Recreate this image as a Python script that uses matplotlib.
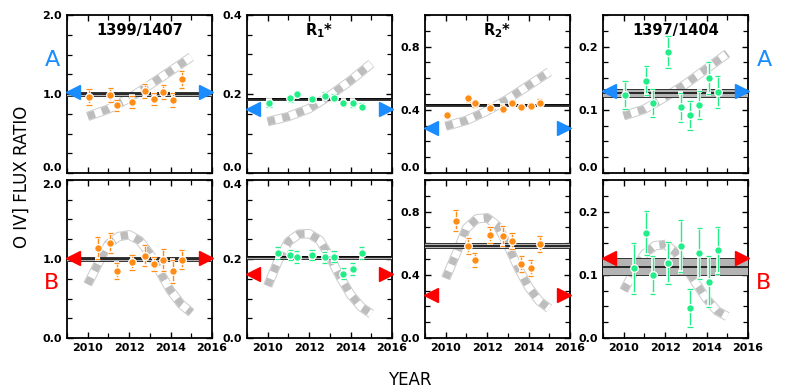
import matplotlib as mpl
mpl.use("Agg")
import matplotlib.pyplot as plt
import matplotlib.patheffects as pe
from matplotlib.ticker import MultipleLocator, FormatStrFormatter

# epochs of the observations
t_top = [2010.05, 2011.1, 2011.4, 2012.13, 2012.75, 2013.2, 2013.65, 2014.1, 2014.53]
t_bot = [2010.48, 2011.1, 2011.4, 2012.13, 2012.75, 2013.2, 2013.65, 2014.1, 2014.53]

# row A
a1 = [0.96, 0.99, 0.855, 0.897, 1.04, 0.935, 1.03, 0.926, 1.187]
a1_err = [0.10, 0.09, 0.075, 0.08, 0.09, 0.08, 0.09, 0.085, 0.11]
a2 = [0.176, 0.189, 0.200, 0.187, 0.196, 0.191, 0.178, 0.176, 0.168]
a2_err = [0.008, 0.008, 0.008, 0.008, 0.008, 0.008, 0.008, 0.008, 0.008]
a3 = [0.367, 0.472, 0.440, 0.414, 0.408, 0.442, 0.418, 0.423, 0.446]
a3_err = [0.02, 0.02, 0.02, 0.02, 0.02, 0.02, 0.02, 0.02, 0.02]
a4 = [0.123, 0.146, 0.111, 0.191, 0.104, 0.0915, 0.108, 0.150, 0.128]
a4_err = [0.022, 0.023, 0.022, 0.025, 0.023, 0.023, 0.022, 0.025, 0.025]

# row B
b1 = [1.136, 1.204, 0.851, 0.957, 1.043, 0.936, 0.987, 0.843, 0.991]
b1_err = [0.14, 0.13, 0.10, 0.095, 0.13, 0.09, 0.145, 0.145, 0.12]
b2 = [0.215, 0.211, 0.205, 0.211, 0.204, 0.206, 0.163, 0.174, 0.215]
b2_err = [0.015, 0.013, 0.014, 0.013, 0.014, 0.013, 0.013, 0.015, 0.015]
b3 = [0.743, 0.581, 0.492, 0.651, 0.647, 0.614, 0.470, 0.444, 0.597]
b3_err = [0.068, 0.05, 0.044, 0.05, 0.065, 0.05, 0.05, 0.05, 0.05]
b4 = [0.110, 0.166, 0.099, 0.119, 0.146, 0.048, 0.134, 0.089, 0.139]
b4_err = [0.04, 0.035, 0.03, 0.033, 0.041, 0.03, 0.04, 0.04, 0.037]

# mean level and its uncertainty
means_a = [1.0, 0.187, 0.429, 0.127]
halfw_a = [0.025, 0.003, 0.006, 0.006]
means_b = [1.0, 0.204, 0.585, 0.113]
halfw_b = [0.03, 0.004, 0.015, 0.014]

# arrow levels
arrow_a = [1.02, 0.162, 0.285, 0.130]
arrow_b = [1.01, 0.163, 0.27, 0.127]

# model curves
curve_x_a = [2010.0, 2011.0, 2012.0, 2013.0, 2014.0, 2015.0]
curve_a1 = [0.716, 0.81, 0.947, 1.116, 1.29, 1.47]
curve_a2 = [0.130, 0.143, 0.163, 0.196, 0.234, 0.277]
curve_a3 = [0.296, 0.333, 0.393, 0.468, 0.554, 0.64]
curve_a4 = [0.0904, 0.101, 0.120, 0.141, 0.165, 0.189]
curve_x_b = [2010.0, 2010.5, 2011.0, 2011.5, 2012.0, 2012.5, 2013.0, 2013.5, 2014.0, 2014.5, 2015.0]
curve_b1 = [0.68, 0.94, 1.19, 1.285, 1.306, 1.234, 1.064, 0.83, 0.60, 0.43, 0.32]
curve_b2 = [0.132, 0.195, 0.244, 0.263, 0.264, 0.248, 0.206, 0.154, 0.110, 0.079, 0.061]
curve_b3 = [0.378, 0.531, 0.695, 0.754, 0.761, 0.71, 0.586, 0.444, 0.323, 0.236, 0.186]
curve_b4 = [0.075, 0.105, 0.133, 0.146, 0.148, 0.136, 0.111, 0.086, 0.062, 0.043, 0.034]

titles = ["1399/1407", r"R$_{\mathbf{1}}$*", r"R$_{\mathbf{2}}$*", "1397/1404"]
ylims = [2.0, 0.4, 1.0, 0.25]
ymajor = [1.0, 0.2, 0.4, 0.1]
yminor = [0.25, 0.05, 0.1, 0.025]
point_colors = ["#ff8c14", "#22ee88", "#ff8c14", "#22ee88"]
BLUE = "#1a8cff"
RED = "#ff0000"

rows = [
  dict(t=t_top, vals=[a1, a2, a3, a4], errs=[a1_err, a2_err, a3_err, a4_err],
       means=means_a, halfw=halfw_a, arrows=arrow_a, cx=curve_x_a,
       curves=[curve_a1, curve_a2, curve_a3, curve_a4], color=BLUE),
  dict(t=t_bot, vals=[b1, b2, b3, b4], errs=[b1_err, b2_err, b3_err, b4_err],
       means=means_b, halfw=halfw_b, arrows=arrow_b, cx=curve_x_b,
       curves=[curve_b1, curve_b2, curve_b3, curve_b4], color=RED),
]

fig = plt.figure(figsize=(7.85, 3.92), dpi=100)
W, H = 785.0, 392.0
lefts = [67, 247, 425, 603]
tops = [15, 180]
pw, ph = 145, 158
axes = []

for r, row in enumerate(rows):
  for c in range(4):
    ax = fig.add_axes([lefts[c] / W, 1 - (tops[r] + ph) / H, pw / W, ph / H])
    axes.append((r, c, ax))
    ax.set_xlim(2009, 2016)
    ax.set_ylim(0, ylims[c])

    # model curve: grey outline, white body, grey dashes
    cx, cy = row["cx"], row["curves"][c]
    ax.plot(cx, cy, color="#cccccc", lw=6.8, solid_capstyle="butt", zorder=2)
    ax.plot(cx, cy, color="white", lw=5.4, solid_capstyle="butt", zorder=2.1)
    ax.plot(cx, cy, color="#bdbdbd", lw=5.4, dashes=(1.0, 1.0),
            dash_capstyle="butt", zorder=2.2)

    # mean level with its error band
    m, hw = row["means"][c], row["halfw"][c]
    ax.axhspan(m - hw, m + hw, color="#b4b4b4", lw=0, zorder=3)
    ax.axhline(m - hw, color="#333333", lw=0.7, zorder=3.1)
    ax.axhline(m + hw, color="#333333", lw=0.7, zorder=3.1)
    ax.axhline(m, color="black", lw=1.1, zorder=3.2)

    # data
    eb = ax.errorbar(row["t"], row["vals"][c], yerr=row["errs"][c], fmt="o",
                     color=point_colors[c], ms=5.5, mec="white", mew=0.9,
                     elinewidth=1.0, capsize=2, capthick=1.0, zorder=5)
    for ln in eb[1] + eb[2]:
      ln.set_path_effects([pe.withStroke(linewidth=2.6, foreground="white")])

    # arrows marking the level
    ya = row["arrows"][c]
    ax.plot([2009.27], [ya], marker="<", ms=10.5, color=row["color"],
            clip_on=False, zorder=6)
    ax.plot([2015.73], [ya], marker=">", ms=10.5, color=row["color"],
            clip_on=False, zorder=6)

    # axes styling
    ax.xaxis.set_major_locator(MultipleLocator(2))
    ax.xaxis.set_minor_locator(MultipleLocator(1))
    ax.yaxis.set_major_locator(MultipleLocator(ymajor[c]))
    ax.yaxis.set_minor_locator(MultipleLocator(yminor[c]))
    ax.yaxis.set_major_formatter(FormatStrFormatter("%.1f"))
    ax.tick_params(which="both", direction="in", top=True, right=True,
                   labelsize=8)
    ax.tick_params(which="major", length=4.5, width=1.0)
    ax.tick_params(which="minor", length=3.5, width=0.9)
    if r == 0:
      ax.set_xticklabels([])
      ax.text(0.5, 0.9, titles[c], transform=ax.transAxes, ha="center",
              va="center", fontsize=10.5, fontweight="bold")
    for sp in ax.spines.values():
      sp.set_linewidth(1.3)

# keep the 0.0 / top labels of neighbouring rows apart
fig.canvas.draw()
for r, c, ax in axes:
  for loc, tick in zip(ax.yaxis.get_majorticklocs(), ax.yaxis.get_major_ticks()):
    tick.label1.set_fontweight("bold")
    if r == 0 and abs(loc) < 1e-9:
      tick.label1.set_va("bottom")
    if r == 1 and abs(loc - ylims[c]) < 1e-9:
      tick.label1.set_va("top")
  for tick in ax.xaxis.get_major_ticks():
    tick.label1.set_fontweight("bold")

fig.text(52 / W, 1 - 60 / H, "A", color=BLUE, fontsize=16, ha="center", va="center")
fig.text(764 / W, 1 - 60 / H, "A", color=BLUE, fontsize=16, ha="center", va="center")
fig.text(52 / W, 1 - 283 / H, "B", color=RED, fontsize=16, ha="center", va="center")
fig.text(763 / W, 1 - 283 / H, "B", color=RED, fontsize=16, ha="center", va="center")

fig.text(22 / W, 1 - 177 / H, "O IV] FLUX RATIO", rotation=90, ha="center",
         va="center", fontsize=12)
fig.text(410 / W, 1 - 380 / H, "YEAR", ha="center", va="center", fontsize=12)

fig.savefig("out.png", dpi=100)
